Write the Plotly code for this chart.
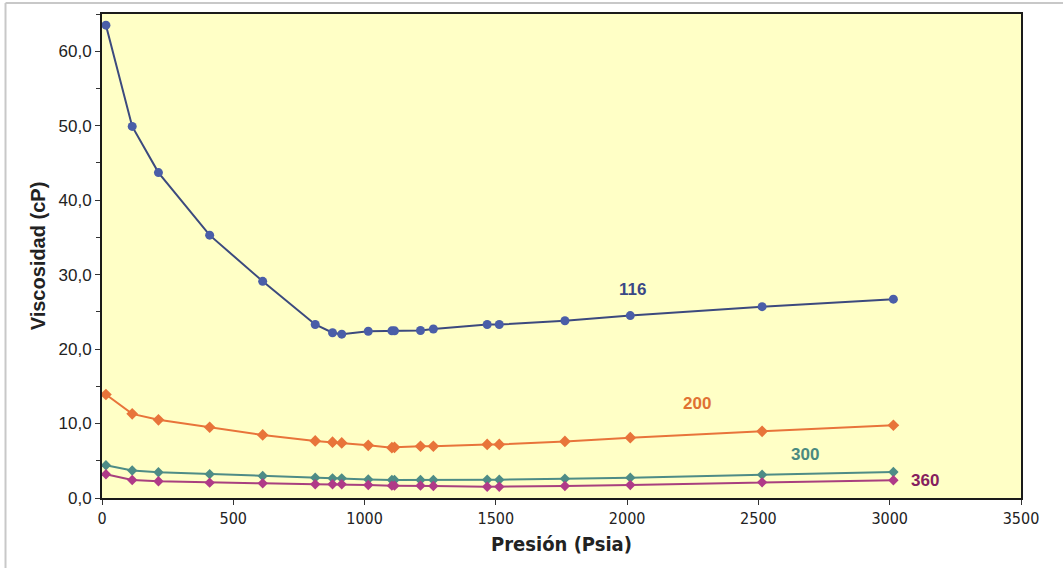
import plotly.graph_objects as go

presion = [15, 115, 215, 410, 612, 812, 878, 913, 1014, 1104, 1114, 1213, 1262, 1467, 1513, 1763, 2012, 2514, 3014]
visc_116 = [63.5, 49.9, 43.7, 35.3, 29.1, 23.3, 22.2, 22.0, 22.4, 22.45, 22.45, 22.5, 22.7, 23.3, 23.3, 23.8, 24.5, 25.7, 26.7]
visc_200 = [13.9, 11.3, 10.5, 9.5, 8.47, 7.66, 7.5, 7.4, 7.08, 6.76, 6.8, 6.95, 6.95, 7.2, 7.2, 7.6, 8.1, 8.96, 9.77]
visc_300 = [4.4, 3.7, 3.45, 3.2, 2.96, 2.73, 2.64, 2.64, 2.5, 2.42, 2.42, 2.42, 2.42, 2.46, 2.46, 2.6, 2.73, 3.13, 3.5]
visc_360 = [3.18, 2.42, 2.24, 2.06, 1.97, 1.84, 1.84, 1.84, 1.75, 1.66, 1.66, 1.66, 1.61, 1.52, 1.52, 1.61, 1.75, 2.1, 2.38]

labels = ["116", "200", "300", "360"]
label_x = [633, 698, 806, 926]
label_y = [289, 403, 454, 480]

series = [
    (visc_116, "#3c4a7e", "#4a5ea8", "circle", 9, "#3a4886"),
    (visc_200, "#e8743a", "#e8743a", "diamond", 9, "#e07232"),
    (visc_300, "#4e8c86", "#4e8c86", "diamond", 8, "#4a8a80"),
    (visc_360, "#a8407e", "#b03a88", "diamond", 8, "#86205e"),
]

fig = go.Figure()
for (vals, lc, mc, sym, ms, tc), name in zip(series, labels):
    fig.add_trace(go.Scatter(
        x=presion, y=vals, mode="lines+markers", name=name,
        line=dict(color=lc, width=2),
        marker=dict(color=mc, symbol=sym, size=ms),
        showlegend=False,
    ))

def px_to_x(px):
    return (px - 102) / 920 * 3500

def py_to_y(py):
    return (498 - py) / 484 * 65

for (vals, lc, mc, sym, ms, tc), name, lx, ly in zip(series, labels, label_x, label_y):
    fig.add_annotation(x=px_to_x(lx), y=py_to_y(ly), text="<b>" + name + "</b>",
                       showarrow=False, font=dict(family="Liberation Sans, Arial", size=17, color=tc))

fig.add_shape(type="line", xref="paper", yref="paper", x0=-0.105, x1=1.06, y0=1.0227, y1=1.0227,
              line=dict(color="#c8c8c8", width=2))
fig.add_shape(type="line", xref="paper", yref="paper", x0=-0.105, x1=-0.105, y0=1.0227, y1=-0.16,
              line=dict(color="#c8c8c8", width=2))

fig.update_layout(
    width=1063, height=568,
    margin=dict(l=102, r=42, t=14, b=70),
    paper_bgcolor="white",
    plot_bgcolor="#ffffc6",
    separators=",.",
    font=dict(family="Liberation Sans, Arial", color="#222222"),
)
fig.update_xaxes(
    range=[0, 3500], dtick=500, tick0=0,
    showgrid=False, zeroline=False,
    showline=True, linecolor="#1a1a1a", linewidth=2, mirror=True,
    ticks="outside", ticklen=5, tickcolor="#333333",
    tickfont=dict(family="DejaVu Sans Condensed, Liberation Sans, Arial", size=16, color="#222222"),
    title=dict(text="<b>Presión (Psia)</b>", standoff=10,
               font=dict(family="DejaVu Sans Condensed, Liberation Sans, Arial", size=20, color="#222222")),
)
fig.update_yaxes(
    range=[0, 65], dtick=10, tick0=0, tickformat=".1f",
    showgrid=False, zeroline=False,
    showline=True, linecolor="#1a1a1a", linewidth=2, mirror=True,
    ticks="outside", ticklen=5, tickcolor="#333333",
    minor=dict(dtick=5, ticks="outside", ticklen=4, tickcolor="#333333"),
    tickfont=dict(family="Liberation Sans, Arial", size=17, color="#222222"),
    title=dict(text="<b>Viscosidad (cP)</b>", standoff=8,
               font=dict(family="Liberation Sans, Arial", size=20, color="#222222")),
)

fig.write_html("out.html")
